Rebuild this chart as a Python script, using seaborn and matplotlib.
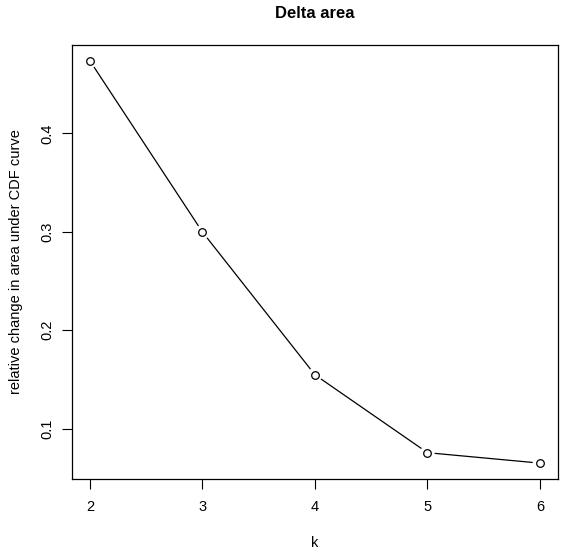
import pandas as pd
import seaborn as sns
import matplotlib.pyplot as plt

# values
k_values = [2, 3, 4, 5, 6]
delta_area = [0.4735, 0.2997, 0.1547, 0.0756, 0.0650]
y_ticks = [0.1, 0.2, 0.3, 0.4]
x_ticks = [2, 3, 4, 5, 6]

df = pd.DataFrame({"k": k_values, "delta": delta_area})

sns.set_theme(style="white")
plt.rcParams["font.family"] = ["Liberation Sans", "DejaVu Sans"]

fig = plt.figure(figsize=(5.67, 5.54), dpi=100)
ax = fig.add_axes([0.127, 0.135, 0.857, 0.784])

# line, then white discs to open gaps around the points (R type="b"), then open circles
sns.lineplot(data=df, x="k", y="delta", color="black", linewidth=0.9, ax=ax, zorder=1)
sns.scatterplot(data=df, x="k", y="delta", s=110, color="white", edgecolor="none",
                ax=ax, zorder=2)
sns.scatterplot(data=df, x="k", y="delta", s=30, facecolor="white", edgecolor="black",
                linewidth=0.9, ax=ax, zorder=3)

# R-style 4% axis padding
xr = max(k_values) - min(k_values)
yr = max(delta_area) - min(delta_area)
ax.set_xlim(min(k_values) - 0.04 * xr, max(k_values) + 0.04 * xr)
ax.set_ylim(min(delta_area) - 0.04 * yr, max(delta_area) + 0.04 * yr)

ax.set_xticks(x_ticks)
ax.set_yticks(y_ticks)
ax.set_xticklabels([str(t) for t in x_ticks])
ax.set_yticklabels([f"{t:.1f}" for t in y_ticks], rotation=90, va="center")
ax.tick_params(axis="both", direction="out", length=7, width=0.8, color="black",
               labelsize=10.5, labelcolor="black", pad=6, bottom=True, left=True)
ax.tick_params(axis="x", pad=8)

for side in ax.spines.values():
    side.set_color("black")
    side.set_linewidth(0.9)

ax.set_xlabel("k", fontsize=10.5, color="black", labelpad=16)
ax.set_ylabel("relative change in area under CDF curve", fontsize=10.5, color="black",
              labelpad=12)
ax.set_title("Delta area", fontsize=12, fontweight="bold", color="black", pad=19)
ax.grid(False)

plt.savefig("out.png", dpi=100)
